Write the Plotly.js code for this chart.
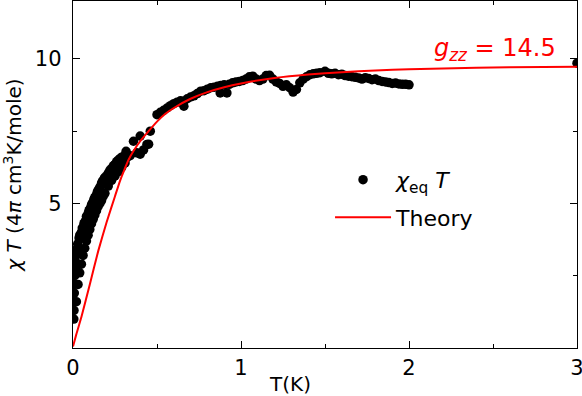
<!DOCTYPE html>
<html>
<head>
<meta charset="utf-8">
<script src="https://cdn.plot.ly/plotly-3.0.1.min.js"></script>
<style>
  html, body { margin: 0; padding: 0; background: #fff; }
  #chart { width: 582px; height: 396px; }
</style>
</head>
<body>
<div id="chart"></div>
<script>
  const dataT = [
    0.005, 0.006, 0.007, 0.008, 0.009, 0.010, 0.012, 0.014, 0.016, 0.018,
    0.020, 0.024, 0.028, 0.032, 0.036, 0.040, 0.045, 0.050, 0.055, 0.060,
    0.065, 0.070, 0.075, 0.080, 0.085, 0.090, 0.095, 0.100, 0.105, 0.110,
    0.115, 0.120, 0.125, 0.130, 0.135, 0.140, 0.145, 0.150, 0.155, 0.160,
    0.165, 0.170, 0.175, 0.180, 0.185, 0.190, 0.200, 0.210, 0.220, 0.230,
    0.240, 0.250, 0.260, 0.270, 0.280, 0.290, 0.300, 0.316, 0.320, 0.340,
    0.360, 0.380, 0.400, 0.400, 0.420, 0.440, 0.450, 0.460,
    // lower edge of the low-T band
    0.020, 0.030, 0.040, 0.050, 0.060, 0.070, 0.080, 0.090, 0.100, 0.110,
    0.120, 0.130, 0.140, 0.150, 0.160, 0.170, 0.180, 0.190, 0.210, 0.230,
    0.250, 0.270, 0.290, 0.310,
    0.500, 0.520, 0.540, 0.560, 0.580, 0.600, 0.620, 0.640, 0.660, 0.660,
    0.680, 0.700, 0.720, 0.740, 0.760, 0.780, 0.800, 0.820, 0.840, 0.860,
    0.876, 0.880, 0.900, 0.916, 0.930, 0.950, 0.970, 0.990, 1.010, 1.030,
    1.050, 1.070, 1.090, 1.110, 1.130, 1.150, 1.170, 1.190, 1.210, 1.230,
    1.250, 1.270, 1.290, 1.310, 1.330, 1.350, 1.370, 1.390, 1.410, 1.430,
    1.450, 1.470, 1.500, 1.520, 1.540, 1.560, 1.580, 1.600, 1.620, 1.640,
    1.660, 1.680, 1.700, 1.720, 1.740, 1.760, 1.780, 1.800, 1.820, 1.840,
    1.860, 1.880, 1.900, 1.920, 1.940, 1.960, 1.980, 2.000, 3.000
  ];
  const dataChiT = [
    1.00, 1.30, 1.60, 1.90, 2.20, 2.50, 2.80, 3.00, 2.70, 3.20,
    3.40, 3.30, 3.60, 3.50, 3.80, 3.90, 3.85, 4.00, 4.15, 4.10,
    4.30, 4.35, 4.40, 4.55, 4.50, 4.65, 4.75, 4.80, 4.85, 4.95,
    5.00, 5.05, 5.15, 5.20, 5.25, 5.30, 5.40, 5.45, 5.50, 5.55,
    5.60, 5.70, 5.75, 5.80, 5.85, 5.90, 5.95, 6.05, 6.15, 6.20,
    6.30, 6.35, 6.45, 6.50, 6.55, 6.60, 6.62, 6.80, 6.58, 6.65,
    7.15, 6.75, 7.33, 6.70, 6.85, 7.04, 7.05, 7.50,
    1.60, 2.20, 2.60, 2.90, 3.20, 3.45, 3.70, 3.90, 4.10, 4.30,
    4.45, 4.60, 4.75, 4.90, 5.00, 5.10, 5.25, 5.35, 5.60, 5.80,
    5.95, 6.10, 6.25, 6.40,
    8.07, 8.15, 8.22, 8.30, 8.38, 8.45, 8.50, 8.55, 8.53, 8.36,
    8.62, 8.68, 8.72, 8.80, 8.88, 8.90, 8.95, 9.00, 9.02, 9.05,
    8.82, 9.08, 9.10, 8.82, 9.12, 9.17, 9.20, 9.22, 9.25, 9.30,
    9.38, 9.40, 9.30, 9.25, 9.30, 9.42, 9.43, 9.30, 9.20, 9.15,
    9.05, 9.10, 9.00, 8.85, 8.94, 9.17, 9.30, 9.38, 9.45, 9.48,
    9.50, 9.52, 9.57, 9.50, 9.48, 9.50, 9.45, 9.47, 9.42, 9.40,
    9.38, 9.36, 9.34, 9.30, 9.35, 9.32, 9.28, 9.30, 9.25, 9.22,
    9.20, 9.18, 9.15, 9.16, 9.13, 9.12, 9.12, 9.10, 9.85
  ];

  // theory curve for g_zz = 14.5
  const theoryT = [
    0, 0.02, 0.05, 0.10, 0.15, 0.20, 0.25, 0.28, 0.30, 0.33,
    0.36, 0.40, 0.45, 0.50, 0.55, 0.60, 0.70, 0.80, 0.90, 1.00,
    1.20, 1.40, 1.60, 1.80, 2.00, 2.40, 2.80, 3.00
  ];
  const theoryChiT = [
    0.05, 0.48, 1.07, 2.20, 3.35, 4.35, 5.25, 5.78, 6.08, 6.50,
    6.81, 7.15, 7.50, 7.83, 8.10, 8.30, 8.62, 8.85, 9.02, 9.15,
    9.34, 9.46, 9.54, 9.60, 9.64, 9.69, 9.72, 9.73
  ];

  const xTicks = [0, 1, 2, 3];
  const yTicks = [5, 10];

  const font = "DejaVu Sans, sans-serif";

  const traces = [
    {
      x: dataT,
      y: dataChiT,
      type: "scatter",
      mode: "markers",
      name: "<i>χ</i><sub>eq</sub> <i>T</i>",
      legendgroup: "data",
      marker: { color: "#000", size: 9.5, line: { width: 0 } },
    },
    {
      x: theoryT,
      y: theoryChiT,
      type: "scatter",
      mode: "lines",
      name: "Theory",
      legendgroup: "theory",
      line: { color: "#ff0000", width: 2, shape: "spline", smoothing: 0.5 },
    },
  ];

  const axisCommon = {
    showgrid: false,
    zeroline: false,
    showline: true,
    linecolor: "#000",
    linewidth: 1.3,
    mirror: "ticks",
    ticks: "inside",
    ticklen: 7,
    tickwidth: 1,
    tickcolor: "#000",
    ticklabeloverflow: "allow",
    tickfont: { family: font, size: 21, color: "#000" },
    minor: { ticks: "inside", ticklen: 4, tickwidth: 1, tickcolor: "#000" },
  };

  const layout = {
    width: 582,
    height: 396,
    margin: { l: 73, r: 5, t: 1, b: 48 },
    paper_bgcolor: "#fff",
    plot_bgcolor: "#fff",
    font: { family: font, color: "#000" },
    showlegend: true,
    legend: {
      x: 0.51,
      y: 0.545,
      xanchor: "left",
      yanchor: "top",
      bgcolor: "rgba(0,0,0,0)",
      font: { family: font, size: 22, color: "#000" },
      tracegroupgap: 6,
      itemwidth: 56,
    },
    xaxis: Object.assign({}, axisCommon, {
      range: [0, 3],
      tickvals: xTicks,
      minor: Object.assign({}, axisCommon.minor, { dtick: 0.5 }),
      title: { text: "" },
    }),
    yaxis: Object.assign({}, axisCommon, {
      range: [0, 12],
      tickvals: yTicks,
      ticklabelstandoff: 6,
      minor: Object.assign({}, axisCommon.minor, { dtick: 2.5 }),
      title: {
        text: "<i>χ T</i> (4<i>π</i> cm<sup>3</sup>K/mole)",
        font: { family: font, size: 20, color: "#000" },
        standoff: 8,
      },
    }),
    annotations: [
      {
        xref: "paper",
        yref: "paper",
        x: 0.43,
        y: -0.064,
        xanchor: "center",
        yanchor: "top",
        showarrow: false,
        text: "T(K)",
        font: { family: font, size: 20, color: "#000" },
      },
      {
        xref: "paper",
        yref: "paper",
        x: 0.962,
        y: 0.91,
        xanchor: "right",
        yanchor: "top",
        showarrow: false,
        text: "<i>g</i><sub><i>zz</i></sub> = 14.5",
        font: { family: font, size: 24, color: "#ff0000" },
      },
    ],
  };

  Plotly.newPlot("chart", traces, layout, { displayModeBar: false, staticPlot: true });
</script>
</body>
</html>
